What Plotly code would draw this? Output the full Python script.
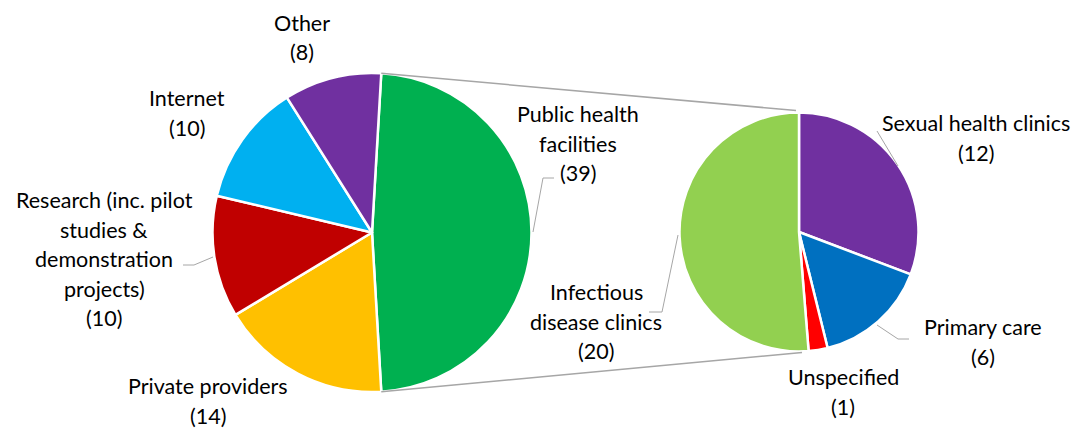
import plotly.graph_objects as go
import math

# ---------------- data ----------------
main_labels = ["Public health facilities", "Private providers",
               "Research (inc. pilot studies & demonstration projects)",
               "Internet", "Other"]
main_values = [39, 14, 10, 10, 8]
main_colors = ["#00B050", "#FFC000", "#C00000", "#00B0F0", "#7030A0"]
main_label_lines = [["Public health", "facilities"], ["Private providers"],
                    ["Research (inc. pilot", "studies &", "demonstration", "projects)"],
                    ["Internet"], ["Other"]]

sub_labels = ["Sexual health clinics", "Primary care", "Unspecified",
              "Infectious disease clinics"]
sub_values = [12, 6, 1, 20]
sub_colors = ["#7030A0", "#0070C0", "#FF0000", "#92D050"]
sub_label_lines = [["Sexual health clinics"], ["Primary care"], ["Unspecified"],
                   ["Infectious", "disease clinics"]]

# ---------------- layout geometry (pixels) ----------------
W, H = 1076, 428
L_CX, L_CY, L_R = 372.0, 232.5, 159.5
R_CX, R_CY, R_R = 799.0, 232.0, 119.5
LINE_H = 29.5
FONT = dict(family="Lato, 'Open Sans', sans-serif", size=21.5, color="#000000")
GRAY = "#A6A6A6"

def px2paper(x, y):
    return x / W, 1 - y / H

def domain(cx, cy, r):
    return dict(x=[(cx - r) / W, (cx + r) / W], y=[1 - (cy + r) / H, 1 - (cy - r) / H])

main_span = 360.0 * main_values[0] / sum(main_values)
main_rot = 90.0 - main_span / 2.0

fig = go.Figure()
fig.add_trace(go.Pie(
    labels=main_labels, values=main_values, sort=False, direction="clockwise",
    rotation=main_rot, textinfo="none", showlegend=False,
    marker=dict(colors=main_colors, line=dict(color="white", width=2.5)),
    domain=domain(L_CX, L_CY, L_R)))
fig.add_trace(go.Pie(
    labels=sub_labels, values=sub_values, sort=False, direction="clockwise",
    rotation=0, textinfo="none", showlegend=False,
    marker=dict(colors=sub_colors, line=dict(color="white", width=2.5)),
    domain=domain(R_CX, R_CY, R_R)))

def pt(cx, cy, r, ang):
    a = math.radians(ang)
    return cx + r * math.sin(a), cy - r * math.cos(a)

shapes = []
def line_px(points, width=1.0):
    path = ""
    for i, (x, y) in enumerate(points):
        xp, yp = px2paper(x, y)
        path += ("M" if i == 0 else "L") + f"{xp},{yp} "
    shapes.append(dict(type="path", xref="paper", yref="paper", path=path.strip(),
                       line=dict(color=GRAY, width=width)))

# connector lines between the pies
lt = pt(L_CX, L_CY, L_R, main_rot)
lb = pt(L_CX, L_CY, L_R, main_rot + main_span)
rt = pt(R_CX, R_CY, R_R, 0)
rb = pt(R_CX, R_CY, R_R, 180)
line_px([lt, (rt[0] - 3, rt[1] - 2)], 1.5)
line_px([lb, (rb[0] + 3, rb[1] + 1)], 1.5)

# leader lines
line_px([(533, 232), (543, 178), (554, 178)])
line_px([(213, 257), (194, 265), (183, 265)])
line_px([(678, 235), (662, 312), (649, 312)])
line_px([(877, 325), (898, 339), (909, 339)])
line_px([(898, 166), (877, 131)])

# label positions: (center x, first-line center y) in pixels
main_label_pos = [(578, 114), (208, 386), (104, 200), (187, 98), (302, 23)]
sub_label_pos = [(976, 123), (983, 327), (843, 377), (596, 292)]

annotations = []
def add_label(lines, value, pos):
    cx, y0 = pos
    all_lines = lines + [f"({value})"]
    for i, t in enumerate(all_lines):
        xp, yp = px2paper(cx, y0 + i * LINE_H)
        annotations.append(dict(text=t, x=xp, y=yp, xref="paper", yref="paper",
                                xanchor="center", yanchor="middle", showarrow=False,
                                font=FONT))

for lines, v, p in zip(main_label_lines, main_values, main_label_pos):
    add_label(lines, v, p)
for lines, v, p in zip(sub_label_lines, sub_values, sub_label_pos):
    add_label(lines, v, p)

fig.update_layout(
    width=W, height=H, margin=dict(l=0, r=0, t=0, b=0),
    paper_bgcolor="white", plot_bgcolor="white",
    shapes=shapes, annotations=annotations, showlegend=False)

fig.write_html("out.html", config={"displayModeBar": False},
               post_script="document.body.style.margin='0px';document.body.style.overflow='hidden';")
